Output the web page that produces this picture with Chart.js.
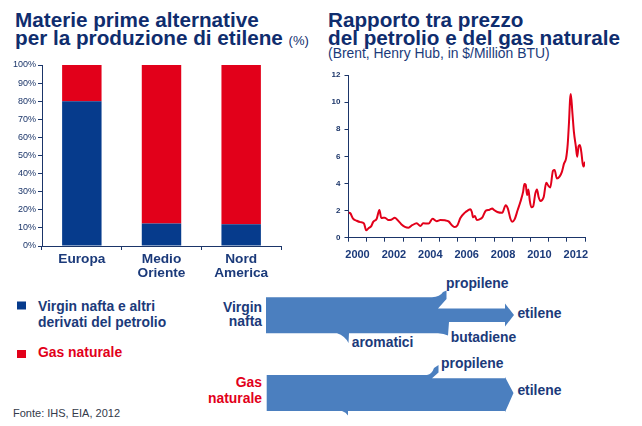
<!DOCTYPE html>
<html>
<head>
<meta charset="utf-8">
<script src="https://cdn.jsdelivr.net/npm/chart.js@4"></script>
<style>
  html, body { margin: 0; padding: 0; background: #fff; }
  #page { position: relative; width: 642px; height: 426px; overflow: hidden; font-family: "Liberation Sans", Arial, sans-serif; }
  canvas { position: absolute; }
  #barChart { left: 0; top: 55px; }
  #lineChart { left: 300px; top: 60px; }
  #overlay { position: absolute; left: 0; top: 0; }
</style>
</head>
<body>
<div id="page">
  <svg id="overlay" width="642" height="426" font-family="Liberation Sans, Arial, sans-serif">
    <!-- titoli -->
    <text x="15" y="27.3" font-size="20.7" font-weight="bold" fill="#0f2d6e">Materie prime alternative</text>
    <text x="15" y="44.5" font-size="20.7" font-weight="bold" fill="#0f2d6e">per la produzione di etilene <tspan font-size="13" font-weight="normal">(%)</tspan></text>
    <text x="328" y="27.3" font-size="20.7" font-weight="bold" fill="#0f2d6e">Rapporto tra prezzo</text>
    <text x="328" y="44.5" font-size="20.7" font-weight="bold" fill="#0f2d6e">del petrolio e del gas naturale</text>
    <text x="328" y="58.3" font-size="13.9" fill="#1b3a7a">(Brent, Henry Hub, in $/Million BTU)</text>

    <!-- legenda -->
    <rect x="17" y="301.5" width="9" height="8" fill="#063b8c"/>
    <text x="38" y="310.7" font-size="13.9" font-weight="bold" fill="#1b3a7a">Virgin nafta e altri</text>
    <text x="38" y="326.7" font-size="13.9" font-weight="bold" fill="#1b3a7a">derivati del petrolio</text>
    <rect x="17" y="350" width="9" height="8" fill="#e2001a"/>
    <text x="38" y="357" font-size="13.9" font-weight="bold" fill="#e2001a">Gas naturale</text>
    <text x="13" y="417.3" font-size="11" fill="#333a4a">Fonte: IHS, EIA, 2012</text>

    <!-- frecce -->
    <path fill="#4b7fbf" d="M266 297.3 L432 297.3 Q440 297 443 292 L446.5 290.5 L446.5 299 L438 308.5 L505 308.5 L505 303.5 L514 315 L505 326.5 L505 322 L449 322 L448 335.5 Q444 333.5 438 333.3 L349 333.3 L348.5 343 Q345 336 337 333.3 L266 333.3 Z"/>
    <path fill="#4b7fbf" d="M266.7 375 L427 375 Q432 374 434 368 L438.5 365 L438.5 372.5 L432 378.3 L505 378.3 L505 377 L513.5 393 L505 412.3 L505 411 L348 411 L348 415.5 Q346 412 342 411 L266.7 411 Z"/>

    <text x="262" y="311.7" font-size="13.9" font-weight="bold" fill="#1b3a7a" text-anchor="end">Virgin</text>
    <text x="262" y="326" font-size="13.9" font-weight="bold" fill="#1b3a7a" text-anchor="end">nafta</text>
    <text x="446" y="288.3" font-size="13.9" font-weight="bold" fill="#1b3a7a">propilene</text>
    <text x="517.4" y="318.3" font-size="13.9" font-weight="bold" fill="#1b3a7a">etilene</text>
    <text x="450.7" y="342.3" font-size="13.9" font-weight="bold" fill="#1b3a7a">butadiene</text>
    <text x="351.7" y="346.7" font-size="13.9" font-weight="bold" fill="#1b3a7a">aromatici</text>

    <text x="262" y="386.7" font-size="13.9" font-weight="bold" fill="#e2001a" text-anchor="end">Gas</text>
    <text x="262" y="403.3" font-size="13.9" font-weight="bold" fill="#e2001a" text-anchor="end">naturale</text>
    <text x="441" y="368.3" font-size="13.9" font-weight="bold" fill="#1b3a7a">propilene</text>
    <text x="517.4" y="395" font-size="13.9" font-weight="bold" fill="#1b3a7a">etilene</text>
  </svg>
  <canvas id="barChart" width="295" height="230"></canvas>
  <canvas id="lineChart" width="300" height="205"></canvas>
</div>
<script>
// --- dati: materie prime (%) ---
const regions = ['Europa', ['Medio', 'Oriente'], ['Nord', 'America']];
const naftaShare = [80, 12.5, 12];
const gasShare = [20, 87.5, 88];
const shareTicks = [0, 10, 20, 30, 40, 50, 60, 70, 80, 90, 100];

// --- dati: rapporto Brent / Henry Hub ---
const years = [
  2000.00, 2000.10, 2000.25, 2000.45, 2000.65, 2000.85, 2000.97, 2001.10, 2001.25, 2001.35,
  2001.55, 2001.70, 2001.80, 2002.00, 2002.20, 2002.35, 2002.55, 2002.75, 2002.90, 2003.10,
  2003.30, 2003.50, 2003.75, 2003.95, 2004.10, 2004.40, 2004.62, 2004.85, 2005.05, 2005.30,
  2005.50, 2005.70, 2005.85, 2005.99, 2006.15, 2006.40, 2006.55, 2006.70, 2006.78, 2006.85,
  2006.95, 2007.05, 2007.20, 2007.36, 2007.55, 2007.73, 2007.90, 2008.00, 2008.18, 2008.45,
  2008.64, 2008.76, 2008.90, 2009.00, 2009.13, 2009.30, 2009.45, 2009.60, 2009.67, 2009.74,
  2009.82, 2009.89, 2009.96, 2010.05, 2010.15, 2010.27, 2010.36, 2010.45, 2010.55, 2010.73,
  2010.87, 2011.00, 2011.09, 2011.24, 2011.33, 2011.45, 2011.60, 2011.73, 2011.85, 2011.96,
  2012.05, 2012.12, 2012.18, 2012.22, 2012.31, 2012.39, 2012.50, 2012.57, 2012.65, 2012.72,
  2012.80, 2012.87, 2012.92, 2013.00
];
const ratio = [
  1.85, 1.80, 1.40, 1.25, 1.15, 1.05, 0.55, 0.70, 0.85, 1.15,
  1.40, 2.05, 1.45, 1.48, 1.30, 1.32, 1.48, 1.22, 1.00, 0.80,
  0.74, 0.92, 1.06, 0.86, 1.06, 1.04, 1.40, 1.22, 1.30, 1.28,
  1.20, 0.90, 0.78, 0.92, 1.45, 1.85, 2.00, 2.10, 1.90, 1.50,
  1.60, 1.30, 1.35, 1.50, 2.00, 2.05, 2.16, 2.04, 1.90, 1.84,
  2.40, 2.15, 1.40, 1.18, 1.35, 2.04, 2.65, 3.40, 3.96, 3.90,
  3.15, 3.56, 2.78, 2.24, 2.30, 3.27, 3.56, 3.00, 2.70, 3.00,
  4.05, 3.80, 3.70, 4.94, 5.00, 4.37, 4.50, 4.86, 5.48, 5.85,
  6.90, 8.50, 10.20, 10.60, 9.16, 7.80, 6.70, 5.97, 6.76, 6.83,
  6.30, 5.48, 5.25, 5.60
];
const yearLabels = [2000, 2002, 2004, 2006, 2008, 2010, 2012];

const NAVY = '#1b3569';
const BLUE = '#063b8c';
const RED = '#e2001a';

Chart.defaults.font.family = '"Liberation Sans", Arial, sans-serif';
Chart.defaults.color = NAVY;

new Chart(document.getElementById('barChart'), {
  type: 'bar',
  data: {
    labels: regions,
    datasets: [
      { label: 'Virgin nafta e altri derivati del petrolio', data: naftaShare, backgroundColor: BLUE },
      { label: 'Gas naturale', data: gasShare, backgroundColor: RED }
    ]
  },
  options: {
    responsive: false, animation: false,
    layout: { padding: { top: 10, right: 14, left: 0, bottom: 0 } },
    datasets: { bar: { categoryPercentage: 1, barPercentage: 0.495 } },
    plugins: { legend: { display: false }, tooltip: { enabled: false } },
    scales: {
      x: {
        stacked: true,
        afterFit: (s) => { s.height = 39; },
        border: { color: NAVY, width: 1 },
        grid: { drawOnChartArea: false, drawTicks: true, tickLength: 4, color: NAVY, offset: true },
        ticks: { font: { size: 13.7, weight: 'bold', lineHeight: 1.05 }, color: '#1b3a7a', padding: 2, maxRotation: 0 }
      },
      y: {
        stacked: true, min: 0, max: 100,
        afterFit: (s) => { s.width = 42; },
        afterBuildTicks: (s) => { s.ticks = shareTicks.map(v => ({ value: v })); },
        border: { color: NAVY, width: 1 },
        grid: { drawOnChartArea: false, drawTicks: true, tickLength: 4, color: NAVY },
        ticks: { font: { size: 9 }, color: NAVY, padding: 2, callback: v => v + '%' }
      }
    }
  }
});

new Chart(document.getElementById('lineChart'), {
  type: 'line',
  data: {
    datasets: [{
      label: 'Brent / Henry Hub',
      data: years.map((y, i) => ({ x: y, y: ratio[i] })),
      borderColor: RED, borderWidth: 2, pointRadius: 0,
      cubicInterpolationMode: 'monotone'
    }]
  },
  options: {
    responsive: false, animation: false,
    layout: { padding: { top: 15, right: 15, left: 0, bottom: 0 } },
    plugins: { legend: { display: false }, tooltip: { enabled: false } },
    scales: {
      x: {
        type: 'linear', min: 2000, max: 2013,
        afterFit: (s) => { s.height = 27.3; },
        border: { color: NAVY, width: 1 },
        grid: { drawOnChartArea: false, drawTicks: true, tickLength: 4, color: NAVY },
        ticks: {
          stepSize: 1, autoSkip: false, maxRotation: 0, labelOffset: 9, padding: 7,
          font: { size: 11, weight: 'bold' }, color: '#1b3a7a',
          callback: v => yearLabels.includes(v) ? String(v) : ''
        }
      },
      y: {
        min: 0, max: 12,
        afterFit: (s) => { s.width = 48.5; },
        border: { color: NAVY, width: 1 },
        grid: { drawOnChartArea: false, drawTicks: true, tickLength: 4, color: NAVY },
        ticks: { stepSize: 2, font: { size: 8, weight: 'bold' }, color: NAVY, padding: 4 }
      }
    }
  }
});
</script>
</body>
</html>
